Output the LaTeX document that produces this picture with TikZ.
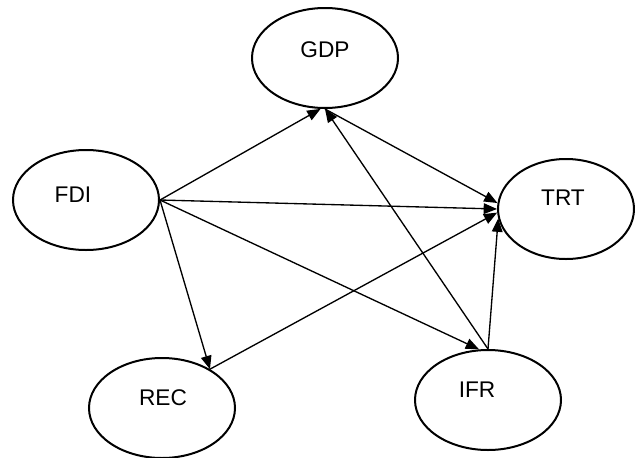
\documentclass[tikz,border=0pt]{standalone}
\usepackage{fontspec}
\setmainfont{Liberation Sans}
\usetikzlibrary{shapes.geometric, arrows.meta}

\begin{document}
\begin{tikzpicture}[x=0.75pt,y=0.75pt,yscale=-1,
  var/.style={draw, ellipse, line width=1.5pt, minimum width=109.5pt, minimum height=75pt, inner sep=0pt},
  lbl/.style={inner sep=0.75pt, font=\fontsize{17}{20}\selectfont},
  arr/.style={-{Triangle[length=10pt,width=8pt]}, line width=1pt}]
\useasboundingbox (0,0) rectangle (635,457);

%Shape: Ellipse [GDP]
\node [var] (gdp) at (325,58) {};
%Shape: Ellipse [FDI]
\node [var] (fdi) at (86,200) {};
%Shape: Ellipse [TRT]
\node [var, minimum width=102pt] (trt) at (566,209) {};
%Shape: Ellipse [REC]
\node [var] (rec) at (162,408) {};
%Shape: Ellipse [IFR]
\node [var] (ifr) at (488,400) {};

% Text Node
\node [lbl] (gdptxt) at (325,50) {GDP};
% Text Node
\node [lbl] (fditxt) at (73,195) {FDI};
% Text Node
\node [lbl] (trttxt) at (563,198) {TRT};
% Text Node
\node [lbl] (rectxt) at (163,398) {REC};
% Text Node
\node [lbl] (ifrtxt) at (477,390) {IFR};

%Straight Lines
\draw [arr] (fdi.east) -- (gdp.265);
\draw [arr] (fdi.east) -- (trt.west);
\draw [arr] (fdi.east) -- (rec.39);
\draw [arr] (fdi.east) -- (ifr.100);
\draw [arr] (gdp.south) -- (trt.175);
\draw [arr] (ifr.north) -- (gdp.south);
\draw [arr] (ifr.north) -- (trt.188);
\draw [arr] (rec.39) -- (trt.183);

\end{tikzpicture}
\end{document}
